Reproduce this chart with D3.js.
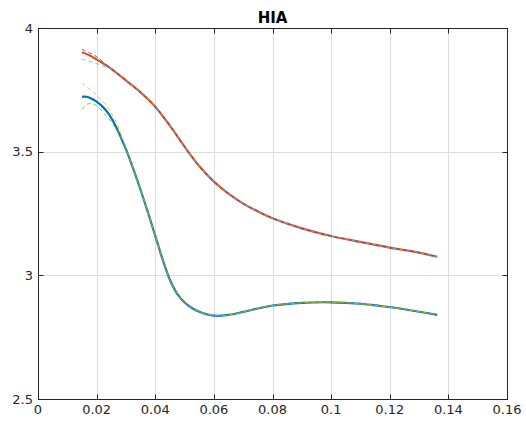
<!DOCTYPE html>
<html>
<head>
<meta charset="utf-8">
<script src="https://cdn.jsdelivr.net/npm/d3@7"></script>
<style>
  html, body { margin: 0; padding: 0; background: #fff; }
  svg { display: block; }
  text { font-family: "DejaVu Sans", sans-serif; fill: #262626; }
</style>
</head>
<body>
<svg id="chart" width="526" height="425"></svg>
<script>
// Axis ticks
const xTicks = [0, 0.02, 0.04, 0.06, 0.08, 0.1, 0.12, 0.14, 0.16];
const xTickLabels = ["0", "0.02", "0.04", "0.06", "0.08", "0.1", "0.12", "0.14", "0.16"];
const yTicks = [2.5, 3, 3.5, 4];
const yTickLabels = ["2.5", "3", "3.5", "4"];

// Lower fitted curve
const blueX = [0.015, 0.0165, 0.018, 0.02, 0.022, 0.024, 0.026, 0.028, 0.03, 0.0325, 0.035, 0.0375,
               0.04, 0.0425, 0.045, 0.0475, 0.05, 0.0525, 0.055, 0.06, 0.065, 0.07, 0.075, 0.08,
               0.09, 0.1, 0.11, 0.1167, 0.125, 0.1362];
const blueY = [3.722, 3.722, 3.716, 3.702, 3.682, 3.655, 3.615, 3.565, 3.51, 3.43, 3.345, 3.255,
               3.16, 3.065, 2.982, 2.925, 2.89, 2.868, 2.853, 2.837, 2.840, 2.852, 2.866, 2.878,
               2.889, 2.891, 2.885, 2.876, 2.863, 2.840];

// Upper fitted curve
const redX = [0.015, 0.0175, 0.02, 0.025, 0.03, 0.035, 0.04, 0.045, 0.05, 0.055, 0.06, 0.065,
              0.07, 0.075, 0.08, 0.09, 0.1, 0.11, 0.12, 0.13, 0.1362];
const redY = [3.902, 3.89, 3.873, 3.835, 3.788, 3.74, 3.682, 3.605, 3.52, 3.442, 3.379, 3.33,
              3.29, 3.258, 3.231, 3.19, 3.159, 3.135, 3.112, 3.092, 3.075];

// Bound curves: leading segment where they split from the fit, then they run along it
const yellowHeadX = [0.015, 0.02, 0.024, 0.027, 0.03];
const yellowHeadY = [3.777, 3.729, 3.675, 3.61, 3.515];
const greenHeadX = [0.015, 0.017, 0.019, 0.021, 0.023, 0.025, 0.028];
const greenHeadY = [3.671, 3.693, 3.692, 3.675, 3.648, 3.620, 3.565];
const purpleHeadX = [0.015, 0.0175, 0.02, 0.024];
const purpleHeadY = [3.914, 3.90, 3.884, 3.844];
const cyanHeadX = [0.015, 0.0175, 0.02, 0.024];
const cyanHeadY = [3.874, 3.866, 3.856, 3.838];

const plotL = 38, plotR = 507, plotT = 28, plotB = 399;

const svg = d3.select("#chart");
const x = d3.scaleLinear().domain([0, 0.16]).range([plotL, plotR]);
const y = d3.scaleLinear().domain([2.5, 4]).range([plotB, plotT]);

// grid
const grid = svg.append("g");
grid.selectAll("line.gx").data(xTicks.slice(1, -1)).join("line")
  .attr("x1", d => Math.round(x(d)) + 0.5).attr("x2", d => Math.round(x(d)) + 0.5)
  .attr("y1", plotT).attr("y2", plotB)
  .attr("stroke", "#dedede").attr("stroke-width", 1);
grid.selectAll("line.gy").data(yTicks.slice(1, -1)).join("line")
  .attr("y1", d => Math.round(y(d)) + 0.5).attr("y2", d => Math.round(y(d)) + 0.5)
  .attr("x1", plotL).attr("x2", plotR)
  .attr("stroke", "#dedede").attr("stroke-width", 1);

function toPts(xs, ys) { return xs.map((v, i) => [v, ys[i]]); }
function withTail(hx, hy, mx, my) {
  const last = hx[hx.length - 1];
  const pts = toPts(hx, hy);
  mx.forEach((v, i) => { if (v > last + 1e-9) pts.push([v, my[i]]); });
  return pts;
}

const line = d3.line().x(d => x(d[0])).y(d => y(d[1])).curve(d3.curveCatmullRom.alpha(0.5));

const plot = svg.append("g");
plot.append("path").attr("d", line(toPts(blueX, blueY)))
  .attr("fill", "none").attr("stroke", "#0072BD").attr("stroke-width", 2.2);
plot.append("path").attr("d", line(toPts(redX, redY)))
  .attr("fill", "none").attr("stroke", "#D95319").attr("stroke-width", 2.2);

const dashed = [
  { pts: withTail(yellowHeadX, yellowHeadY, blueX, blueY), color: "#EDB120" },
  { pts: withTail(purpleHeadX, purpleHeadY, redX, redY), color: "#7E2F8E" },
  { pts: withTail(greenHeadX, greenHeadY, blueX, blueY), color: "#77AC30" },
  { pts: withTail(cyanHeadX, cyanHeadY, redX, redY), color: "#4DBEEE" }
];
dashed.forEach(s => {
  plot.append("path").attr("d", line(s.pts))
    .attr("fill", "none").attr("stroke", s.color).attr("stroke-width", 1)
    .attr("stroke-dasharray", "4,3").attr("opacity", 0.85);
});

// box and ticks
const ax = svg.append("g").attr("stroke", "#262626").attr("stroke-width", 1);
ax.append("rect").attr("x", plotL + 0.5).attr("y", plotT + 0.5)
  .attr("width", plotR - plotL).attr("height", plotB - plotT).attr("fill", "none");
const tl = 5;
xTicks.forEach(t => {
  const px = Math.round(x(t)) + 0.5;
  ax.append("line").attr("x1", px).attr("x2", px).attr("y1", plotB + 0.5).attr("y2", plotB + 0.5 - tl);
  ax.append("line").attr("x1", px).attr("x2", px).attr("y1", plotT + 0.5).attr("y2", plotT + 0.5 + tl);
});
yTicks.forEach(t => {
  const py = Math.round(y(t)) + 0.5;
  ax.append("line").attr("y1", py).attr("y2", py).attr("x1", plotL + 0.5).attr("x2", plotL + 0.5 + tl);
  ax.append("line").attr("y1", py).attr("y2", py).attr("x1", plotR + 0.5).attr("x2", plotR + 0.5 - tl);
});

// tick labels
svg.append("g").selectAll("text").data(xTicks).join("text")
  .attr("x", d => x(d)).attr("y", 414)
  .attr("text-anchor", "middle").attr("font-size", 13)
  .text((d, i) => xTickLabels[i]);
svg.append("g").selectAll("text").data(yTicks).join("text")
  .attr("x", 33).attr("y", d => y(d)).attr("dy", "0.36em")
  .attr("text-anchor", "end").attr("font-size", 13)
  .text((d, i) => yTickLabels[i]);

// title
svg.append("text").attr("x", (plotL + plotR) / 2).attr("y", 22.5)
  .attr("text-anchor", "middle").attr("font-size", 15).attr("font-weight", "bold")
  .style("fill", "#000").text("HIA");
</script>
</body>
</html>
